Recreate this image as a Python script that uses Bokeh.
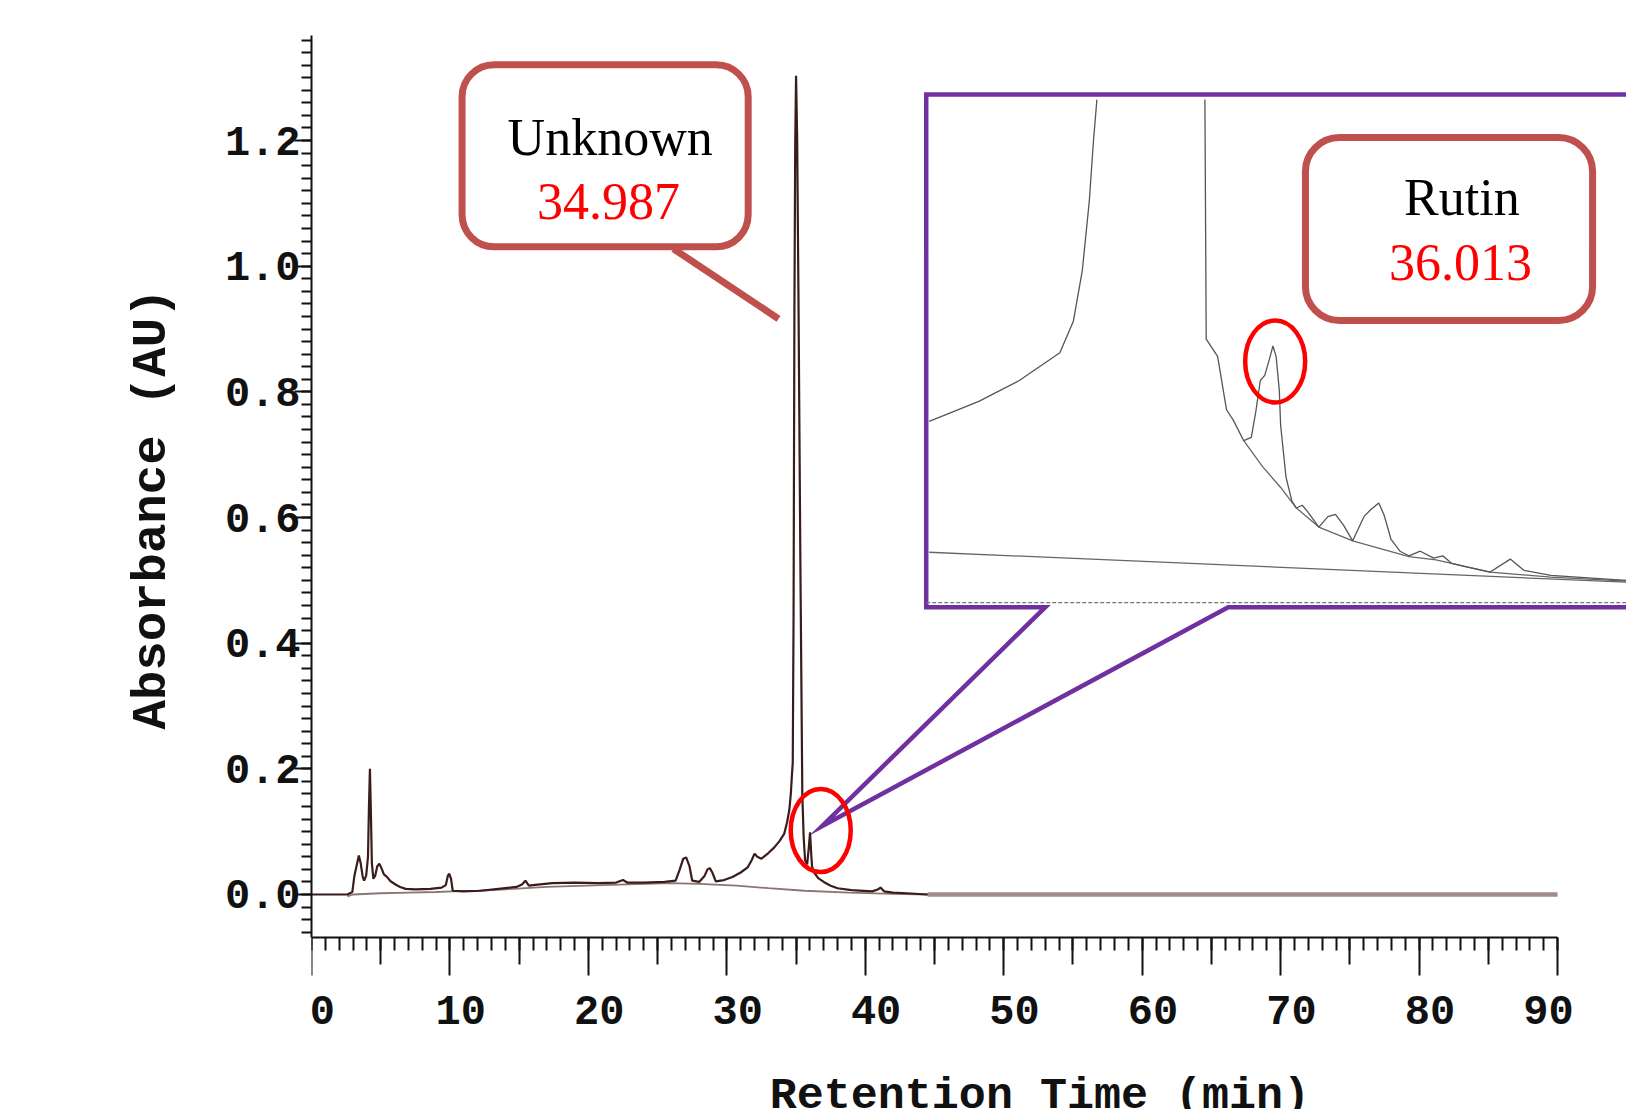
import math
from bokeh.plotting import figure
from bokeh.models import (Range1d, LinearAxis, FixedTicker, BoxAnnotation, Label, Title,
                          PrintfTickFormatter, CustomJSTickFormatter)
from bokeh.embed import file_html
from bokeh.resources import INLINE

# ---------------- data ----------------
# main chromatogram trace: retention time (min), absorbance (AU)
trace_time = [0.0, 2.6, 2.95, 3.1, 3.25, 3.42, 3.55, 3.70, 3.80, 3.95, 4.08, 4.15, 4.22, 4.29,
              4.36, 4.47, 4.60, 4.75, 4.90, 5.05, 5.23, 5.45, 5.71, 6.07, 6.4, 6.8, 7.5, 8.6,
              9.4, 9.7, 9.85, 9.95, 10.08, 10.2, 11.0, 12.2, 13.5, 14.8, 15.2, 15.45, 15.7,
              16.5, 17.4, 19.0, 20.7, 22.0, 22.5, 22.8, 24.0, 25.5, 26.3, 26.6, 26.85, 27.06,
              27.3, 27.5, 28.0, 28.4, 28.6, 28.77, 28.95, 29.2, 29.8, 30.4, 31.0, 31.5, 31.8,
              32.0, 32.2, 32.5, 33.0, 33.43, 33.8, 34.15, 34.35, 34.51, 34.62, 34.70, 34.76,
              34.82, 34.88, 34.94, 35.00, 35.08, 35.18, 35.31, 35.45, 35.55, 35.65, 35.80,
              35.92, 36.01, 36.08, 36.15, 36.3, 36.6, 37.0, 37.5, 38.0, 39.0, 40.5, 40.9,
              41.1, 41.35, 42.0, 43.0, 44.5]
trace_abs = [0.000, 0.000, 0.004, 0.030, 0.045, 0.062, 0.050, 0.028, 0.022, 0.030, 0.060,
             0.140, 0.200, 0.130, 0.050, 0.025, 0.030, 0.045, 0.049, 0.042, 0.032, 0.028,
             0.021, 0.016, 0.012, 0.009, 0.008, 0.009, 0.011, 0.015, 0.030, 0.033, 0.025,
             0.006, 0.005, 0.006, 0.009, 0.012, 0.016, 0.022, 0.014, 0.016, 0.018, 0.019,
             0.018, 0.019, 0.023, 0.019, 0.019, 0.020, 0.022, 0.040, 0.057, 0.059, 0.045,
             0.022, 0.020, 0.030, 0.040, 0.042, 0.035, 0.021, 0.023, 0.028, 0.035, 0.043,
             0.055, 0.065, 0.060, 0.057, 0.066, 0.075, 0.085, 0.097, 0.115, 0.134, 0.160,
             0.190, 0.210, 0.450, 0.930, 1.200, 1.303, 1.200, 0.930, 0.530, 0.160, 0.090,
             0.055, 0.048, 0.075, 0.099, 0.070, 0.045, 0.035, 0.026, 0.020, 0.014, 0.010,
             0.007, 0.005, 0.008, 0.011, 0.005, 0.003, 0.002, 0.000]

# integration baseline drawn under the peaks
baseline_time = [2.6, 3.0, 5.0, 7.0, 9.0, 10.2, 12.0, 14.6, 17.0, 21.0, 24.0, 25.9, 28.0,
                 30.7, 33.0, 35.6, 38.8, 42.0, 44.6]
baseline_abs = [-0.003, 0.000, 0.002, 0.003, 0.004, 0.005, 0.006, 0.009, 0.012, 0.015,
                0.017, 0.018, 0.017, 0.014, 0.010, 0.006, 0.003, 0.001, 0.000]

# flat end of the run
tail_time = [44.5, 90.0]
tail_abs = [0.0, 0.0]

# zoomed inset (time in min, absorbance in AU)
inset_rise_time = [33.125, 33.543, 33.884, 34.226, 34.339, 34.415, 34.474, 34.508, 34.538]
inset_rise_abs = [0.0713, 0.0792, 0.0874, 0.0983, 0.1106, 0.1307, 0.1580, 0.1811, 0.1980]

inset_fall_time = [35.448, 35.459, 35.555, 35.630, 35.687, 35.775, 35.839, 35.877, 35.915,
                   35.952, 35.990, 36.021, 36.048, 36.075, 36.086, 36.131, 36.181, 36.219,
                   36.268, 36.313, 36.408, 36.484, 36.548, 36.617, 36.693, 36.788, 36.844,
                   36.913, 36.958, 37.015, 37.091, 37.167, 37.262, 37.376, 37.452, 37.528,
                   37.642, 37.851, 38.021, 38.135, 38.363, 39.0]
inset_fall_abs = [0.1980, 0.1037, 0.0969, 0.0759, 0.0718, 0.0637, 0.0650, 0.0752, 0.0874,
                  0.0894, 0.0955, 0.1010, 0.0969, 0.0833, 0.0698, 0.0494, 0.0399, 0.0372,
                  0.0383, 0.0358, 0.0297, 0.0338, 0.0347, 0.0304, 0.0243, 0.0338, 0.0365,
                  0.0392, 0.0344, 0.0250, 0.0202, 0.0184, 0.0202, 0.0175, 0.0184, 0.0154,
                  0.0141, 0.0120, 0.0171, 0.0127, 0.0107, 0.0087]

inset_drop_time = [35.775, 35.934, 36.086, 36.219, 36.408, 36.693, 37.167, 37.395, 37.851,
                   38.363, 39.0]
inset_drop_abs = [0.0637, 0.0535, 0.0453, 0.0372, 0.0297, 0.0243, 0.0181, 0.0168, 0.0120,
                  0.0100, 0.0084]

inset_base_time = [33.125, 39.0]
inset_base_abs = [0.0198, 0.0080]

peak_names = ["Unknown", "Rutin"]
peak_times = ["34.987", "36.013"]

x_tick_labels = [0, 10, 20, 30, 40, 50, 60, 70, 80, 90]
y_tick_labels = [0.0, 0.2, 0.4, 0.6, 0.8, 1.0, 1.2]

# ---------------- figure ----------------
X0, X1 = 0.0, 94.98          # x range of the frame (axis drawn 0..90)
YB, Y1 = -0.3422, 1.4229     # frame reaches the bottom/top edge of the page
Y0, YT = -0.0684, 1.367      # drawn extent of the y axis
INK = "#111111"

p = figure(width=1626, height=1109, output_backend="svg", toolbar_location=None,
           x_range=Range1d(X0, X1), y_range=Range1d(YB, Y1),
           x_axis_type=None, y_axis_type=None,
           min_border_left=311, min_border_right=0, min_border_top=0, min_border_bottom=0)
p.outline_line_color = None
p.background_fill_color = "white"
p.border_fill_color = "white"

AX_FONT = "Liberation Mono"
tick_style = dict(major_tick_in=0, minor_tick_in=0, major_tick_line_width=2,
                  minor_tick_line_width=2, major_tick_line_color=INK,
                  minor_tick_line_color=INK)

# x axis: ticks every 10, minor every 1, medium ticks every 5
x_mid = [v + 5 for v in x_tick_labels[:-1]]
x_minor = list(range(0, 91))
xaxis = LinearAxis(fixed_location=Y0,
                   ticker=FixedTicker(ticks=x_tick_labels, minor_ticks=x_minor),
                   bounds=(0, 90), axis_line_width=2, axis_line_color=INK,
                   major_tick_out=38, minor_tick_out=13, **tick_style,
                   major_label_text_color=None)
p.add_layout(xaxis, "below")
xaxis5 = LinearAxis(fixed_location=Y0, ticker=FixedTicker(ticks=x_mid, minor_ticks=[]),
                    bounds=(0, 90), axis_line_color=None,
                    major_tick_out=27, minor_tick_out=0, **tick_style,
                    major_label_text_color=None)
p.add_layout(xaxis5, "below")
# x tick labels: the source prints them a little to the right of their ticks
# (the last one a little to the left)
x_label_pos = [v + 0.78 for v in x_tick_labels[:-1]] + [x_tick_labels[-1] - 0.65]
xlabels = LinearAxis(fixed_location=Y0, ticker=FixedTicker(ticks=x_label_pos, minor_ticks=[]),
                     bounds=(0, 90), axis_line_color=None,
                     major_tick_out=0, minor_tick_out=0, major_tick_in=0, minor_tick_in=0,
                     major_tick_line_color=None, minor_tick_line_color=None,
                     formatter=CustomJSTickFormatter(
                         code="return (Math.round(tick / 10) * 10).toFixed(0);"),
                     major_label_text_font=AX_FONT, major_label_text_font_style="bold",
                     major_label_text_font_size="42px", major_label_text_color=INK,
                     major_label_standoff=59)
p.add_layout(xlabels, "below")

# y axis: labelled ticks every 0.2, unlabelled long ticks at odd tenths, minor every 0.02
y_odd = [round(0.1 * k, 1) for k in range(1, 14, 2)]
y_minor = [round(0.02 * k, 2) for k in range(-3, 69)]
yaxis = LinearAxis(ticker=FixedTicker(ticks=y_tick_labels, minor_ticks=y_minor),
                   formatter=PrintfTickFormatter(format="%.1f"), bounds=(Y0, YT),
                   axis_line_width=2, axis_line_color=INK,
                   major_tick_out=17, minor_tick_out=10, **tick_style,
                   major_label_text_font=AX_FONT, major_label_text_font_style="bold",
                   major_label_text_font_size="42px", major_label_text_color=INK,
                   major_label_standoff=-6)
p.add_layout(yaxis, "left")
yaxis_odd = LinearAxis(fixed_location=X0, ticker=FixedTicker(ticks=y_odd, minor_ticks=[]),
                       bounds=(Y0, YT), axis_line_color=None, major_tick_out=17,
                       minor_tick_out=0, **tick_style, major_label_text_color=None)
p.add_layout(yaxis_odd, "left")

p.add_layout(Title(text="Absorbance (AU)", align="left", offset=380, standoff=83,
                   text_font=AX_FONT, text_font_style="bold", text_font_size="49px",
                   text_color=INK), "left")

# inset frame with its pointer (purple callout)
inset_x = [44.40, 96.5, 96.5, 66.21, 36.87, 53.00, 44.40]
inset_y = [1.2733, 1.2733, 0.4573, 0.4573, 0.1087, 0.4573, 0.4573]
p.patch(inset_x, inset_y, fill_color="white", line_color="#7030a0", line_width=4.5,
        line_join="miter")

# main chromatogram
p.line(baseline_time, baseline_abs, line_color="#8a7474", line_width=1.8)
p.line(tail_time, tail_abs, line_color="#a08c8c", line_width=4.5)
p.line(trace_time, trace_abs, line_color="#3a1c1c", line_width=2.2)

p.ellipse(x=[36.78], y=[0.1019], width=60, height=83, width_units="screen",
          height_units="screen", fill_color=None, line_color="#ff0000", line_width=4.5)

# inset content in its own coordinates
sub = p.subplot(x_source=Range1d(33.1, 39.0), y_source=Range1d(0.0, 0.2),
                x_target=Range1d(44.40, 94.98), y_target=Range1d(0.4647, 1.2733))
sub.line([33.1, 39.0], [0.0, 0.0], line_color="#777777", line_width=1.2, line_dash="4 2")
sub.line(inset_base_time, inset_base_abs, line_color="#666666", line_width=1.3)
sub.line(inset_drop_time, inset_drop_abs, line_color="#666666", line_width=1.3)
sub.line(inset_rise_time, inset_rise_abs, line_color="#555555", line_width=1.3)
sub.line(inset_fall_time, inset_fall_abs, line_color="#555555", line_width=1.3)
sub.ellipse(x=[36.04], y=[0.0949], width=60, height=82, width_units="screen",
            height_units="screen", fill_color=None, line_color="#ff0000", line_width=4.5)

# callouts
CALLOUT = "#c0504d"
p.line([26.14, 33.73], [1.0277, 0.9163], line_color=CALLOUT, line_width=7)
p.add_layout(BoxAnnotation(left=10.875, right=31.54, top=1.3206, bottom=1.0309,
                           border_radius=32, fill_color="white", fill_alpha=1.0,
                           line_color=CALLOUT, line_alpha=1.0, line_width=7))
p.add_layout(BoxAnnotation(left=71.79, right=92.53, top=1.2048, bottom=0.9136,
                           border_radius=34, fill_color="white", fill_alpha=1.0,
                           line_color=CALLOUT, line_alpha=1.0, line_width=7))

SERIF = "Liberation Serif"
for (nx, ny, tx, ty), name, rt in zip([(21.57, 1.2048, 21.45, 1.1022),
                                        (83.09, 1.1094, 82.99, 1.0066)],
                                       peak_names, peak_times):
    p.add_layout(Label(x=nx, y=ny, text=name, text_align="center", text_baseline="alphabetic",
                       text_font=SERIF, text_font_size="52px", text_color="black"))
    p.add_layout(Label(x=tx, y=ty, text=rt, text_align="center", text_baseline="alphabetic",
                       text_font=SERIF, text_font_size="52px", text_color="#ff0000"))

# x-axis title (sits off-centre and runs into the page's bottom edge, as in the source)
p.add_layout(Label(x=52.61, y=-0.3215, text="Retention Time (min)", text_align="center",
                   text_baseline="alphabetic", text_font=AX_FONT, text_font_style="bold",
                   text_font_size="45px", text_color=INK))

open("out.html", "w").write(file_html(p, INLINE))
